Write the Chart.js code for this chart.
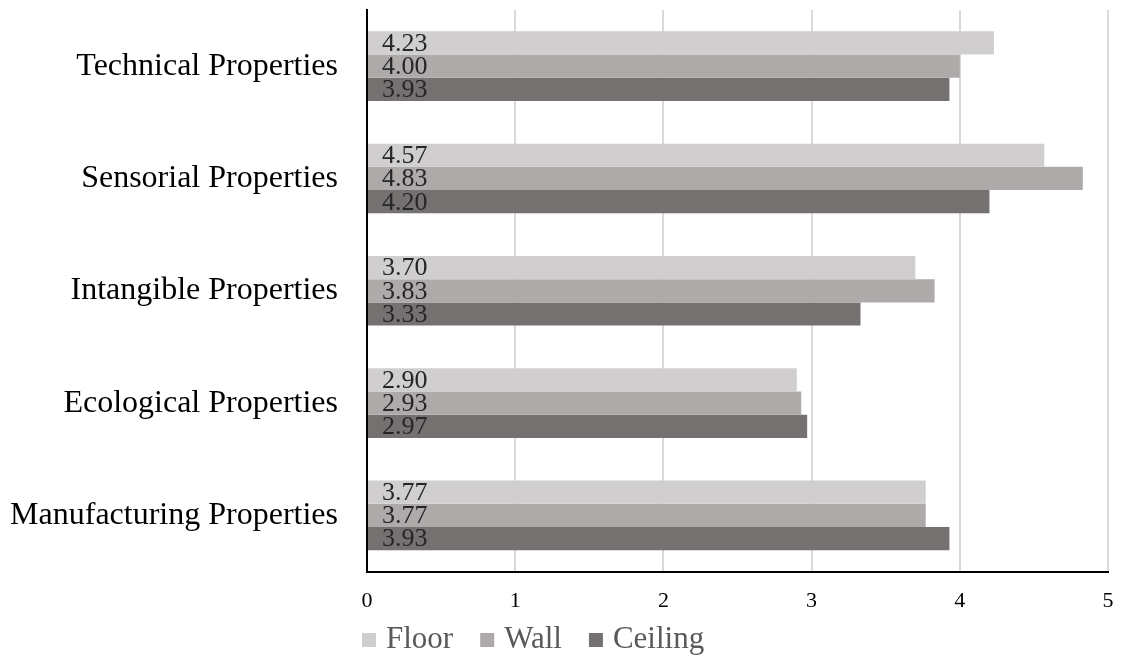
<!DOCTYPE html>
<html><head><meta charset="utf-8">
<script src="https://cdn.jsdelivr.net/npm/chart.js@4/dist/chart.umd.min.js"></script>
<style>html,body{margin:0;padding:0;background:#fff}#w{width:1121px;height:656px}</style>
</head><body><div id="w"><canvas id="c"></canvas></div>
<script>
const categories = ["Technical Properties","Sensorial Properties","Intangible Properties","Ecological Properties","Manufacturing Properties"];
const floorValues = [4.23,4.57,3.70,2.90,3.77];
const wallValues = [4.00,4.83,3.83,2.93,3.77];
const ceilingValues = [3.93,4.20,3.33,2.97,3.93];
const xTicks = [0,1,2,3,4,5];

const serif = "'Liberation Serif','Times New Roman',serif";
const labelPlugin = {
  id:'barLabels',
  afterDatasetsDraw(chart){
    const ctx = chart.ctx;
    ctx.save();
    ctx.font = "26px " + serif;
    ctx.fillStyle = "#262626";
    ctx.textBaseline = "middle";
    ctx.textAlign = "left";
    chart.data.datasets.forEach((ds,i)=>{
      chart.getDatasetMeta(i).data.forEach((bar,j)=>{
        ctx.fillText(ds.data[j].toFixed(2), bar.base + 14, bar.y + 1);
      });
    });
    ctx.restore();
  }
};
const legendPlugin = {
  id:'customLegend',
  afterDraw(chart){
    const ctx = chart.ctx;
    ctx.save();
    ctx.font = "31px " + serif;
    ctx.textBaseline = "middle";
    ctx.textAlign = "left";
    let x = 362; const y = 640;
    chart.data.datasets.forEach(ds=>{
      ctx.fillStyle = ds.backgroundColor;
      ctx.fillRect(x, y-7, 14, 14);
      x += 14 + 10;
      ctx.fillStyle = '#595959';
      ctx.fillText(ds.label, x, y);
      x += ctx.measureText(ds.label).width + 27;
    });
    ctx.restore();
  }
};

new Chart(document.getElementById('c'),{
  type:'bar',
  data:{labels:categories,datasets:[
    {label:'Floor',data:floorValues,backgroundColor:'#d0cece'},
    {label:'Wall',data:wallValues,backgroundColor:'#aeaaaa'},
    {label:'Ceiling',data:ceilingValues,backgroundColor:'#767171'}
  ]},
  options:{
    indexAxis:'y',responsive:true,maintainAspectRatio:false,animation:false,
    layout:{padding:{top:10,right:13,left:10,bottom:26}},
    datasets:{bar:{categoryPercentage:0.62,barPercentage:1.0}},
    scales:{
      x:{min:0,max:5,afterBuildTicks(a){a.ticks=xTicks.map(v=>({value:v}));},
        afterFit(s){s.paddingLeft=0;s.paddingRight=0;},
        grid:{color:'#d9d9d9',lineWidth:2,drawTicks:false},
        border:{color:'#000',width:2},
        ticks:{font:{family:serif,size:22},color:'#000',padding:16}},
      y:{grid:{display:false,drawTicks:false},border:{color:'#000',width:2},
        afterFit(s){s.paddingTop=0;s.paddingBottom=0;s.width=357;},
        ticks:{font:{family:serif,size:32},color:'#000',padding:29}}
    },
    plugins:{legend:{display:false},tooltip:{enabled:false}}
  },
  plugins:[labelPlugin,legendPlugin]
});
</script></body></html>
